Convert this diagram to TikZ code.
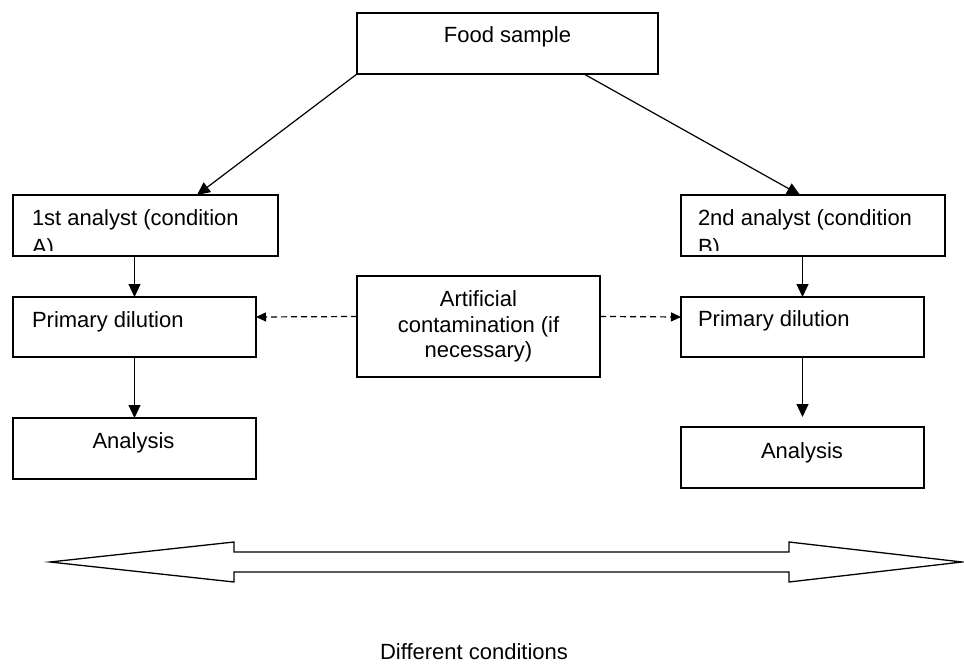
\documentclass[tikz,border=0pt]{standalone}
\usepackage{fontspec}
\setmainfont{Liberation Sans}
\usetikzlibrary{arrows.meta,calc}
\begin{document}
\begin{tikzpicture}[x=1pt,y=-1pt,
  every node/.style={font=\fontsize{22}{26}\selectfont},
  box/.style={draw,line width=1.3pt,inner sep=0pt,outer sep=0pt,rectangle},
  txt/.style={inner sep=0pt,outer sep=0pt},
  arr/.style={line width=1.2pt,-{Triangle[length=13pt,width=12pt]}},
  darr/.style={line width=1.2pt,dash pattern=on 6pt off 4pt,-{Triangle[length=10pt,width=9pt]}}]
\useasboundingbox (0,0) rectangle (964,666);
% boxes
\node[box,minimum width=301pt,minimum height=61pt] (food) at (507.5,43.5) {};
\node[box,minimum width=265pt,minimum height=61pt] (a1) at (145.5,225.5) {};
\node[box,minimum width=243pt,minimum height=60pt] (p1) at (134.5,327) {};
\node[box,minimum width=243pt,minimum height=61pt] (an1) at (134.5,448.5) {};
\node[box,minimum width=264pt,minimum height=61pt] (a2) at (813,225.5) {};
\node[box,minimum width=243pt,minimum height=60pt] (p2) at (802.5,327) {};
\node[box,minimum width=243pt,minimum height=61pt] (an2) at (802.5,457.5) {};
\node[box,minimum width=243pt,minimum height=101pt] (mid) at (478.5,326.5) {};
% texts
\node[txt,anchor=base] (tfood) at (507.5,43) {Food sample};
\begin{scope}
\clip (13,195) rectangle (278,250);
\node[txt,anchor=base west] (ta1) at (32,225) {1st analyst (condition};
\node[txt,anchor=base west] (ta1b) at (32,254) {A)};
\end{scope}
\begin{scope}
\clip (681,195) rectangle (945,250);
\node[txt,anchor=base west] (ta2) at (698,225) {2nd analyst (condition};
\node[txt,anchor=base west] (ta2b) at (698,254) {B)};
\end{scope}
\node[txt,anchor=base west] (tp1) at (32,327) {Primary dilution};
\node[txt,anchor=base west] (tp2) at (698,326) {Primary dilution};
\node[txt,anchor=base] (tan1) at (133.5,448) {Analysis};
\node[txt,anchor=base] (tan2) at (802,458) {Analysis};
\node[txt,anchor=base] (tm1) at (478.5,306) {Artificial};
\node[txt,anchor=base] (tm2) at (478.5,332) {contamination (if};
\node[txt,anchor=base] (tm3) at (478.5,357) {necessary)};
\node[txt,anchor=base] (tdiff) at (474,659) {Different conditions};
% connectors
\draw[arr] (food.south west) -- ($(a1.north west)+(184,0)$);
\draw[arr] ($(food.south west)+(227,0)$) -- ($(a2.north west)+(119,0)$);
\draw[arr] (p1.north |- a1.south) -- (p1.north);
\draw[arr] (p1.south) -- (an1.north);
\draw[arr] (p2.north |- a2.south) -- (p2.north);
\draw[arr,shorten >=10pt] (p2.south) -- (an2.north);
\draw[darr] ($(mid.west)+(0,-10)$) -- ($(p1.east)+(0,-10)$);
\draw[darr] ($(mid.east)+(0,-10)$) -- ($(p2.west)+(0,-10)$);
% double arrow
\draw[line width=1.3pt,line join=miter] (50,562) -- (234,542) -- (234,552) -- (789,552) -- (789,542) -- (962,562) -- (789,582) -- (789,572) -- (234,572) -- (234,582) -- cycle;
\end{tikzpicture}
\end{document}
